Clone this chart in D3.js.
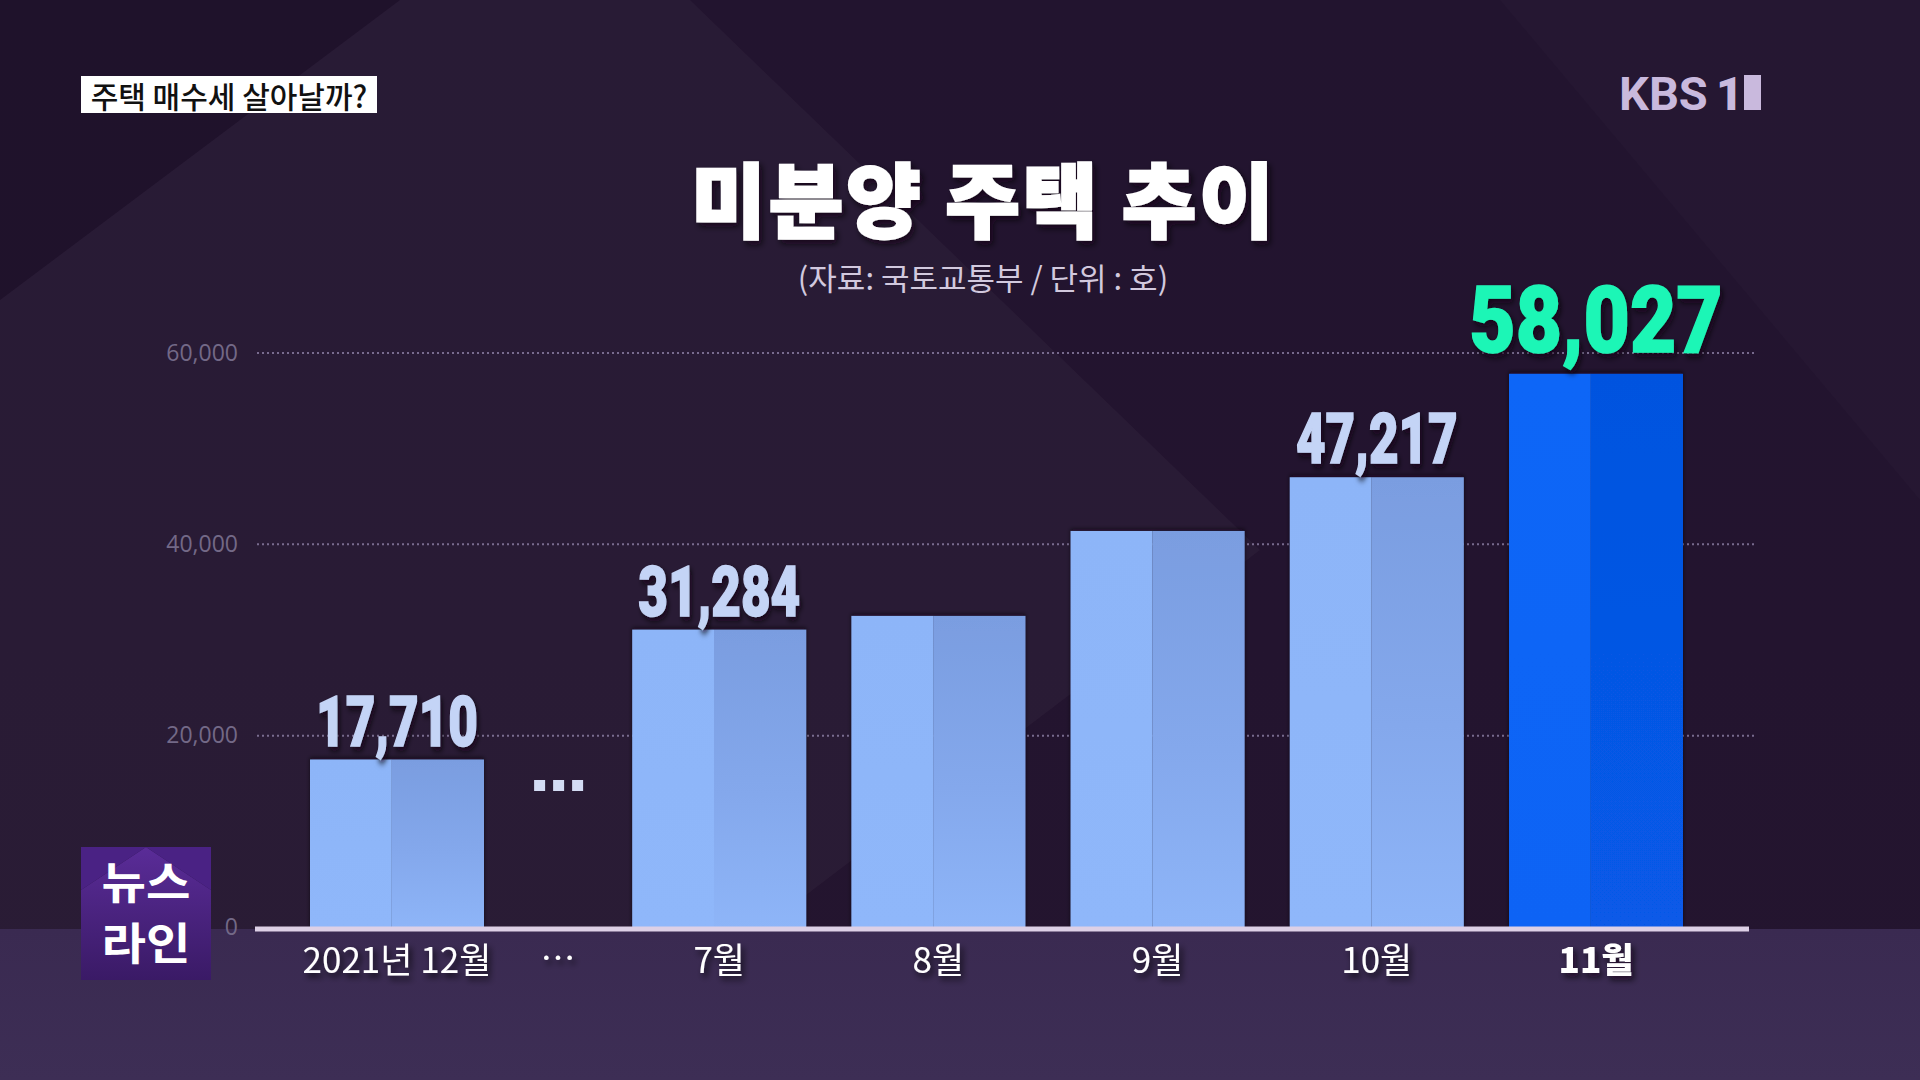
<!DOCTYPE html>
<html><head><meta charset="utf-8">
<script src="https://cdn.jsdelivr.net/npm/d3@7"></script>
<style>
html,body{margin:0;padding:0;background:#20122e;overflow:hidden}
svg{display:block}
</style></head>
<body>
<svg id="chart" width="1920" height="1080"></svg>
<script>
// ---- data ----
const categories = ["2021년 12월", "7월", "8월", "9월", "10월", "11월"];
const values = [17710, 31284, 32722, 41604, 47217, 58027];
const showValue = [true, true, false, false, true, true];
const highlightCategory = "11월";
const yTicks = [0, 20000, 40000, 60000];
const gapLabel = "…";
const titleText = "미분양 주택 추이";
const subtitleText = "(자료: 국토교통부 / 단위 : 호)";
const topicText = "주택 매수세 살아날까?";
const logoLines = ["뉴스", "라인"];

// ---- layout ----
const W = 1920, H = 1080;
const GAP_EXTRA = 0.47;           // extra slot space where the "…" break sits
const slot = i => i === 0 ? 0 : i + GAP_EXTRA;
const BAR_W = 174;
const svg = d3.select("#chart");
const defs = svg.append("defs");
const KR = "'Noto Sans CJK KR','Noto Sans',sans-serif";
const NUM = "Roboto,'Open Sans',sans-serif";

function lin(id, stops, x2=0, y2=1){
  const g = defs.append("linearGradient").attr("id", id)
    .attr("x1",0).attr("y1",0).attr("x2",x2).attr("y2",y2);
  stops.forEach(s => g.append("stop").attr("offset", s[0]).attr("stop-color", s[1]));
}
lin("bg", [[0,"#22142f"],[0.6,"#23142f"],[1,"#24152f"]]);
lin("band", [[0,"#3a2a51"],[1,"#3d2e55"]]);
lin("barL", [[0,"#8db5f8"],[1,"#8fb7fa"]]);
lin("barR", [[0,"#7a9de0"],[0.55,"#84a8ec"],[1,"#8eb5f8"]]);
lin("hiL", [[0,"#0b66f7"],[1,"#0a64f5"]]);
lin("hiR", [[0,"#0553df"],[1,"#075ae8"]]);
lin("logoBg", [[0,"#5a2c98"],[1,"#3a1a66"]]);

const sh = defs.append("filter").attr("id","shadow").attr("x","-20%").attr("y","-20%").attr("width","150%").attr("height","160%");
sh.append("feDropShadow").attr("dx",3).attr("dy",4).attr("stdDeviation",3)
  .attr("flood-color","#0a0416").attr("flood-opacity",0.75);
const bsh = defs.append("filter").attr("id","barshadow").attr("x","-10%").attr("y","-10%").attr("width","130%").attr("height","120%");
bsh.append("feDropShadow").attr("dx",0).attr("dy",-2).attr("stdDeviation",2)
  .attr("flood-color","#0a0416").attr("flood-opacity",0.6);

// background
svg.append("rect").attr("width",W).attr("height",H).attr("fill","url(#bg)");
svg.append("polygon").attr("points","400,0 690,0 1260,550 760,930 0,930 0,300")
  .attr("fill","#ffffff").attr("opacity",0.03);
svg.append("polygon").attr("points","0,0 400,0 0,300").attr("fill","#000").attr("opacity",0.08);
svg.append("polygon").attr("points","1500,0 1920,0 1920,500").attr("fill","#ffffff").attr("opacity",0.015);
svg.append("rect").attr("x",0).attr("y",929).attr("width",W).attr("height",H-929).attr("fill","url(#band)");

// scales
const x = d3.scaleLinear().domain([0, slot(categories.length - 1)]).range([397, 1596]);
const y = d3.scaleLinear().domain([0, 60000]).range([929, 355]);

// gridlines
svg.append("g").selectAll("line").data(yTicks.filter(d => d > 0)).join("line")
  .attr("x1",257).attr("x2",1755)
  .attr("y1",d => y(d) - 2).attr("y2",d => y(d) - 2)
  .attr("stroke","#9487ad").attr("stroke-width",2).attr("stroke-dasharray","2,3").attr("opacity",0.75);

// y axis labels
const yAxis = svg.append("g").attr("transform","translate(238,-3)")
  .call(d3.axisLeft(y).tickValues(yTicks).tickFormat(d3.format(",")).tickSize(0).tickPadding(0));
yAxis.select(".domain").remove();
yAxis.selectAll("text").attr("font-family","'Open Sans','Noto Sans',sans-serif")
  .attr("font-size",23).attr("fill","#736987").attr("dy","0.35em");

// bars
const data = categories.map((c,i) => ({c, v: values[i], i, show: showValue[i], hi: c === highlightCategory}));
const bars = svg.append("g").selectAll("g").data(data).join("g").attr("filter","url(#barshadow)");
const split = 0.47;
bars.append("rect")
  .attr("x", d => x(slot(d.i)) - BAR_W/2).attr("y", d => y(d.v))
  .attr("width", BAR_W*split).attr("height", d => y(0) - y(d.v))
  .attr("fill", d => d.hi ? "url(#hiL)" : "url(#barL)");
bars.append("rect")
  .attr("x", d => x(slot(d.i)) - BAR_W/2 + BAR_W*split).attr("y", d => y(d.v))
  .attr("width", BAR_W*(1-split)).attr("height", d => y(0) - y(d.v))
  .attr("fill", d => d.hi ? "url(#hiR)" : "url(#barR)");

// baseline
svg.append("line").attr("x1",255).attr("x2",1749).attr("y1",y(0)).attr("y2",y(0))
  .attr("stroke","#ddd0e6").attr("stroke-width",5);

// value labels
svg.append("g").selectAll("text").data(data.filter(d => d.show)).join("text")
  .attr("transform", d => `translate(${x(slot(d.i))},${y(d.v) - (d.hi ? 22 : 14)}) scale(${d.hi ? 0.86 : 0.73},1)`)
  .attr("text-anchor","middle")
  .attr("font-family",NUM).attr("font-weight",900)
  .attr("font-size", d => d.hi ? 93 : 70)
  .attr("fill", d => d.hi ? "#1ff6b6" : "#c4d4f6")
  .attr("stroke", d => d.hi ? "#1ff6b6" : "#c4d4f6").attr("stroke-width",1.5)
  .attr("filter","url(#shadow)")
  .text(d => d3.format(",")(d.v));

// gap dots between bars
const gx = x((slot(0) + slot(1)) / 2);
svg.append("g").selectAll("rect").data([-1,0,1]).join("rect")
  .attr("x", d => gx + d*19 - 5).attr("y", 780).attr("width",11).attr("height",11)
  .attr("fill","#d3dcf4");

// x labels
svg.append("g").selectAll("text").data(data).join("text")
  .attr("x", d => x(slot(d.i))).attr("y", 957)
  .attr("text-anchor","middle").attr("dominant-baseline","central")
  .attr("font-family",KR).attr("font-size",35)
  .attr("font-weight", d => d.hi ? 900 : 400)
  .attr("fill","#ffffff").attr("filter","url(#shadow)")
  .text(d => d.c);
svg.append("text").attr("x",gx).attr("y",955).attr("text-anchor","middle").attr("dominant-baseline","central")
  .attr("font-family",KR).attr("font-size",35).attr("fill","#ffffff").attr("filter","url(#shadow)")
  .text(gapLabel);

// title + subtitle
svg.append("text").attr("x",984).attr("y",231).attr("text-anchor","middle")
  .attr("font-family",KR).attr("font-weight",900).attr("font-size",81).attr("letter-spacing",3)
  .attr("fill","#ffffff").attr("stroke","#ffffff").attr("stroke-width",2.5)
  .attr("filter","url(#shadow)").text(titleText);
svg.append("text").attr("x",983).attr("y",290).attr("text-anchor","middle")
  .attr("font-family",KR).attr("font-weight",400).attr("font-size",31).attr("fill","#d2c9de").text(subtitleText);

// topic box
svg.append("rect").attr("x",81).attr("y",76).attr("width",296).attr("height",37).attr("fill","#ffffff");
svg.append("text").attr("x",229).attr("y",95).attr("text-anchor","middle").attr("dominant-baseline","central")
  .attr("font-family",KR).attr("font-weight",500).attr("font-size",30).attr("fill","#111111").text(topicText);

// broadcaster logo
svg.append("text").attr("x",1619).attr("y",110).attr("font-family",NUM).attr("font-weight",700)
  .attr("font-size",47).attr("fill","#c9b9dd").text("KBS");
svg.append("text").attr("x",1716).attr("y",110).attr("font-family",NUM).attr("font-weight",900)
  .attr("font-size",47).attr("fill","#c9b9dd").text("1");
svg.append("rect").attr("x",1744).attr("y",75).attr("width",17).attr("height",35).attr("fill","#c9b9dd");

// program logo
const lg = svg.append("g");
lg.append("rect").attr("x",81).attr("y",847).attr("width",130).attr("height",133).attr("fill","#2f1650");
lg.append("polygon").attr("points","81,890 146,847 211,890 211,980 81,980").attr("fill","url(#logoBg)");
lg.append("polygon").attr("points","81,847 146,847 81,890").attr("fill","#4a2284");
lg.append("polygon").attr("points","146,847 211,847 211,890").attr("fill","#4a2284");
lg.selectAll("text.logo").data(logoLines).join("text").attr("class","logo")
  .attr("transform",(d,i) => `translate(146,${899 + i*61}) scale(1.18,1.08)`)
  .attr("text-anchor","middle")
  .attr("font-family",KR).attr("font-weight",700).attr("font-size",41).attr("fill","#ffffff")
  .text(d => d);
</script>
</body></html>
